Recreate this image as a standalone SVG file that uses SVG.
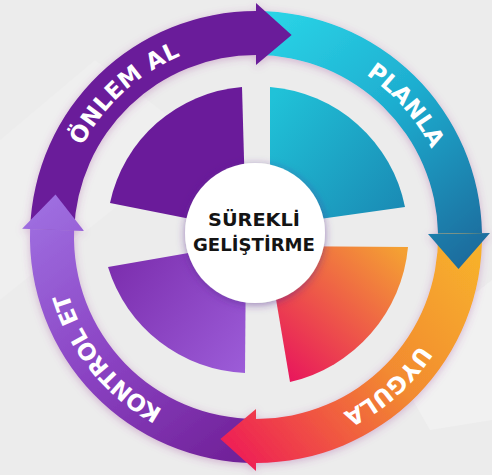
<svg xmlns="http://www.w3.org/2000/svg" width="492" height="475" viewBox="0 0 492 475">
  <style>
    .lbl { font-family: "DejaVu Sans", "Liberation Sans", sans-serif; font-weight: bold; font-size: 23px; fill: #ffffff; }
    .ctr { font-family: "DejaVu Sans", "Liberation Sans", sans-serif; font-weight: bold; font-size: 18px; fill: #141414; text-anchor: middle; }
  </style>
  <defs>
    <linearGradient id="gPlan" gradientUnits="userSpaceOnUse" x1="270" y1="20" x2="470" y2="265">
      <stop offset="0" stop-color="#2ad3e6"/>
      <stop offset="0.45" stop-color="#1eaed0"/>
      <stop offset="1" stop-color="#1a6a9c"/>
    </linearGradient>
    <linearGradient id="gUyg" gradientUnits="userSpaceOnUse" x1="470" y1="250" x2="230" y2="450">
      <stop offset="0" stop-color="#f7b02c"/>
      <stop offset="0.45" stop-color="#f28a30"/>
      <stop offset="1" stop-color="#ee1f55"/>
    </linearGradient>
    <linearGradient id="gKon" gradientUnits="userSpaceOnUse" x1="250" y1="460" x2="50" y2="200">
      <stop offset="0" stop-color="#6f1f96"/>
      <stop offset="0.5" stop-color="#8a42c2"/>
      <stop offset="1" stop-color="#9e6ee0"/>
    </linearGradient>
    <linearGradient id="qTR" gradientUnits="userSpaceOnUse" x1="270" y1="100" x2="405" y2="210">
      <stop offset="0" stop-color="#20c2d8"/>
      <stop offset="1" stop-color="#1a8ab4"/>
    </linearGradient>
    <linearGradient id="qBR" gradientUnits="userSpaceOnUse" x1="400" y1="250" x2="285" y2="375">
      <stop offset="0" stop-color="#f4a033"/>
      <stop offset="1" stop-color="#e8175c"/>
    </linearGradient>
    <linearGradient id="qBL" gradientUnits="userSpaceOnUse" x1="110" y1="265" x2="245" y2="370">
      <stop offset="0" stop-color="#7c2eae"/>
      <stop offset="1" stop-color="#9c5cd8"/>
    </linearGradient>
    <filter id="ringShadow" x="-10%" y="-10%" width="120%" height="120%">
      <feDropShadow dx="0" dy="2" stdDeviation="4" flood-color="#a0449a" flood-opacity="0.35"/>
    </filter>
    <filter id="circShadow" x="-20%" y="-20%" width="140%" height="140%">
      <feDropShadow dx="0" dy="2" stdDeviation="4" flood-color="#5a2a90" flood-opacity="0.55"/>
    </filter>
    <path id="tp" d="M452,237 A196,196 0 1 1 60,237 A196,196 0 1 1 452,237"/>
  </defs>

  <rect x="0" y="0" width="492" height="475" fill="#ececec"/>
  <polygon points="0,140 95,60 200,140 0,300" fill="#efefef"/>
  <polygon points="390,360 492,280 492,420 430,430" fill="#f1f1f1"/>

  <!-- quadrants -->
  <g id="quad-onlem">
    <path d="M242,87 A147,147 0 0 0 110,203 L246,230 Z" fill="#6a1b9a"/>
  </g>
  <g id="quad-planla">
    <path d="M270,87 A150,150 0 0 1 405,207 L270,226 Z" fill="url(#qTR)"/>
  </g>
  <g id="quad-uygula">
    <path d="M408,247 A153,153 0 0 1 290,382 L267,246 Z" fill="url(#qBR)"/>
  </g>
  <g id="quad-kontrol">
    <path d="M108,267 A150,150 0 0 0 245,373 L246,243 Z" fill="url(#qBL)"/>
  </g>

  <!-- ring arrows -->
  <g id="connectors" filter="url(#ringShadow)">
    <path id="band-onlem" d="M30.1,229.1 A226,226 0 0 1 256,11 L256,55 A182,182 0 0 0 74.1,230.6 Z" fill="#6a1b9a"/>
    <path id="band-planla" d="M256,11 A226,226 0 0 1 482,233.1 L438,233.8 A182,182 0 0 0 256,55 Z" fill="url(#gPlan)"/>
    <path id="band-uygula" d="M482,233.1 A226,226 0 0 1 256,463 L256,419 A182,182 0 0 0 438,233.8 Z" fill="url(#gUyg)"/>
    <path id="band-kontrol" d="M256,463 A226,226 0 0 1 30.1,229.1 L74.1,230.6 A182,182 0 0 0 256,419 Z" fill="url(#gKon)"/>
    <polygon id="head-onlem" points="256,65 256,3 291.6,35.1" fill="#6a1b9a"/>
    <polygon id="head-planla" points="428,234 490,232.9 458.5,269.1" fill="url(#gPlan)"/>
    <polygon id="head-uygula" points="256,409 256,471 220.4,438.9" fill="url(#gUyg)"/>
    <polygon id="head-kontrol" points="84.1,231 22.1,228.8 55.5,194.4" fill="url(#gKon)"/>
  </g>

  <g id="label-onlem">
    <text class="lbl"><textPath href="#tp" startOffset="778" text-anchor="middle" textLength="136" lengthAdjust="spacing">ÖNLEM AL</textPath></text>
  </g>
  <g id="label-planla">
    <text class="lbl"><textPath href="#tp" startOffset="1090" text-anchor="middle" textLength="100" lengthAdjust="spacing">PLANLA</textPath></text>
  </g>
  <g id="label-uygula">
    <text class="lbl"><textPath href="#tp" startOffset="166" text-anchor="middle" textLength="104" lengthAdjust="spacing">UYGULA</textPath></text>
  </g>
  <g id="label-kontrol">
    <text class="lbl"><textPath href="#tp" startOffset="482" text-anchor="middle" textLength="154" lengthAdjust="spacing">KONTROL ET</textPath></text>
  </g>

  <!-- center -->
  <g id="center">
    <circle cx="255" cy="233" r="70" fill="#ffffff" filter="url(#circShadow)"/>
    <text class="ctr" x="254" y="226" textLength="92" lengthAdjust="spacingAndGlyphs">SÜREKLİ</text>
    <text class="ctr" x="254" y="251" textLength="122" lengthAdjust="spacingAndGlyphs">GELİŞTİRME</text>
  </g>
</svg>
